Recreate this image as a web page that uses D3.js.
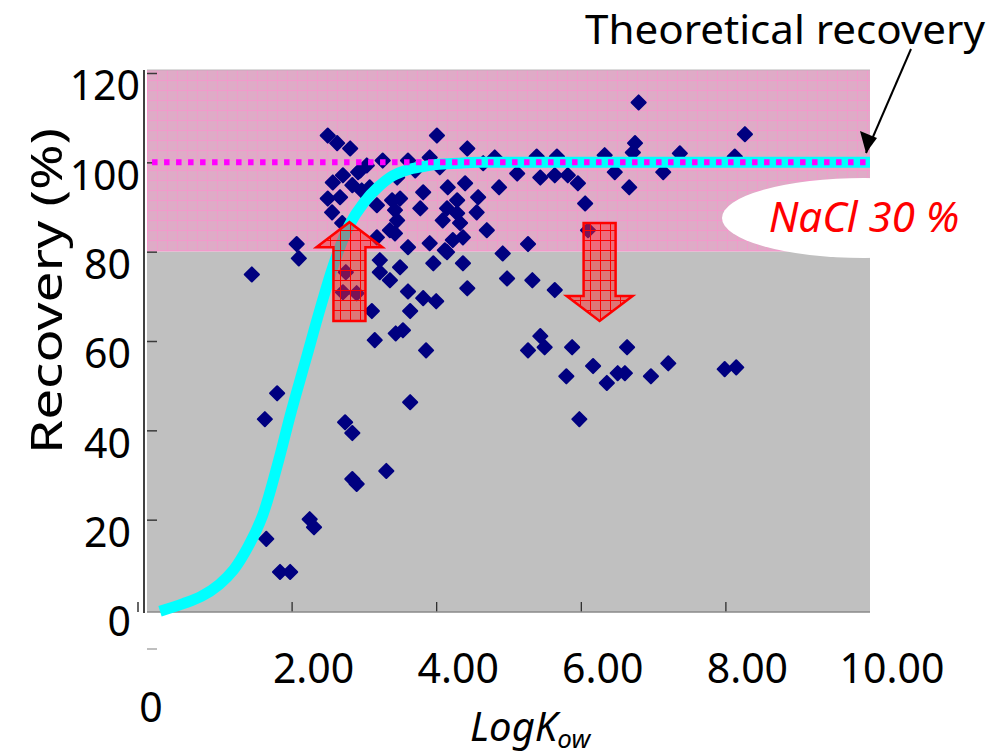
<!DOCTYPE html>
<html>
<head>
<meta charset="utf-8">
<script src="https://cdn.jsdelivr.net/npm/d3@7"></script>
<style>
  body { margin: 0; background: #fff; }
  svg { display: block; }
  text { font-family: "Noto Sans", "Open Sans", sans-serif; }
</style>
</head>
<body>
<svg id="chart" width="1003" height="756"></svg>
<script>
// measured compounds (LogKow vs recovery %)
const logKow = [
  1.45, 2.07, 2.10, 1.63, 1.80, 1.65, 1.84, 1.98, 2.25, 2.31,
  2.74, 2.84, 2.84, 2.90, 3.31, 3.64, 3.15, 3.44, 3.54, 3.86,
  3.11, 3.64, 3.61, 3.82, 4.00, 2.75, 2.71, 2.90, 4.43, 4.37,
  4.15, 4.23, 3.96, 3.22, 3.36, 3.50, 3.22, 3.18, 3.43, 3.61,
  3.91, 4.12, 4.37, 2.50, 2.63, 2.81, 3.26, 3.04, 2.92, 2.71,
  2.57, 2.50, 2.67, 2.84, 2.97, 3.08, 3.18, 3.39, 3.43, 2.56,
  2.70, 3.36, 2.95, 4.01, 4.43, 3.61, 3.91, 4.65, 3.71, 4.05,
  3.46, 4.16, 4.40, 3.82, 4.58, 3.50, 4.29, 3.78, 4.15, 4.29,
  4.56, 3.46, 4.33, 4.70, 4.09, 4.81, 6.80, 8.27, 6.75, 6.72,
  7.37, 8.13, 6.33, 5.67, 5.39, 5.12, 5.44, 5.64, 5.82, 5.96,
  6.47, 7.14, 6.67, 4.87, 6.06, 5.27, 4.92, 6.10, 4.98, 5.33,
  5.64, 5.44, 5.27, 5.50, 5.88, 6.64, 6.17, 5.80, 6.36, 6.51,
  6.61, 6.97, 7.21, 7.99, 8.15, 5.98
];
const recovery = [
  74.9, 81.7, 78.5, 42.5, 48.3, 15.7, 8.3, 8.3, 20.1, 18.3,
  41.8, 39.4, 29.1, 28.0, 30.9, 46.3, 60.2, 61.7, 62.4, 57.9,
  66.7, 66.7, 71.1, 69.6, 68.9, 75.4, 70.9, 70.7, 71.8, 77.4,
  79.9, 82.6, 77.4, 75.4, 73.6, 76.5, 78.1, 83.2, 84.1, 81.0,
  81.9, 80.3, 83.2, 106.0, 104.3, 103.1, 100.4, 99.3, 97.8, 97.1,
  95.5, 91.9, 92.2, 94.9, 93.7, 94.4, 90.4, 91.5, 89.3, 88.8,
  86.4, 84.8, 98.2, 106.0, 103.1, 100.4, 101.1, 99.8, 98.2, 98.9,
  96.6, 94.4, 95.3, 93.3, 92.2, 91.9, 91.5, 89.7, 89.7, 88.6,
  88.8, 87.0, 86.4, 84.8, 87.0, 101.1, 113.4, 106.3, 104.3, 102.2,
  102.0, 101.3, 101.6, 101.3, 101.3, 97.5, 96.6, 97.1, 97.1, 95.3,
  97.8, 97.8, 94.4, 94.4, 90.8, 81.7, 79.6, 84.8, 74.0, 73.6,
  71.4, 61.1, 57.9, 58.6, 58.6, 58.6, 54.4, 52.1, 50.6, 52.8,
  52.8, 52.1, 55.0, 53.7, 54.1, 42.5
];

// theoretical recovery curve
const curveLogKow = [0.18, 0.5, 0.75, 1.0, 1.2, 1.4, 1.6, 1.8, 2.0, 2.2, 2.4, 2.6, 2.8,
  3.0, 3.2, 3.4, 3.6, 3.8, 4.0, 4.3, 4.6, 5, 6, 7, 8, 9, 10];
const curveRecovery = [-0.5, 1.2, 2.8, 5.5, 8.8, 14, 21, 32, 44.5, 56, 67.5, 78, 86,
  91, 94.5, 97, 98.3, 99, 99.5, 99.8, 100, 100, 100, 100, 100, 100, 100];

const theoreticalLevel = 100;
const salinityBand = 80;
const xTicks = [2, 4, 6, 8, 10];
const yTicks = [0, 20, 40, 60, 80, 100, 120];
// shift arrows: x position, start and end recovery
const arrowX = [2.8, 6.26];
const arrowFrom = [64.5, 86.4];
const arrowTo = [86.6, 64.5];

const svg = d3.select('#chart');
const x = d3.scaleLinear().domain([0, 10]).range([147, 870]);
const y = d3.scaleLinear().domain([0, 120]).range([609, 73]);
const plotTop = 70, plotBottom = 612, plotLeft = 147, plotRight = 870;

const defs = svg.append('defs');
const pinkGrid = defs.append('pattern').attr('id', 'pinkGrid')
  .attr('patternUnits', 'userSpaceOnUse').attr('width', 10).attr('height', 10)
  .attr('x', plotLeft).attr('y', plotTop);
pinkGrid.append('rect').attr('width', 10).attr('height', 10).attr('fill', '#dfabc7');
pinkGrid.append('path').attr('d', 'M0,0.5H10M0.5,0V10').attr('stroke', '#f19acb').attr('stroke-width', 1);

const redGrid = defs.append('pattern').attr('id', 'redGrid')
  .attr('patternUnits', 'userSpaceOnUse').attr('width', 10).attr('height', 10);
redGrid.append('rect').attr('width', 10).attr('height', 10).attr('fill', 'rgba(255,40,40,0.48)');
redGrid.append('path').attr('d', 'M0,0.5H10M0.5,0V10').attr('stroke', '#ff0000').attr('stroke-width', 1);

// background bands
svg.append('rect')
  .attr('x', plotLeft).attr('y', y(salinityBand))
  .attr('width', plotRight - plotLeft).attr('height', plotBottom - y(salinityBand))
  .attr('fill', '#c0c0c0');
svg.append('rect')
  .attr('x', plotLeft).attr('y', plotTop)
  .attr('width', plotRight - plotLeft).attr('height', y(salinityBand) - plotTop)
  .attr('fill', 'url(#pinkGrid)');
svg.append('line').attr('x1', plotLeft).attr('x2', plotRight).attr('y1', plotTop).attr('y2', plotTop)
  .attr('stroke', '#b8b8b8').attr('stroke-width', 1);

// axes
svg.append('g').attr('transform', `translate(${plotLeft},0)`)
  .call(d3.axisLeft(y).tickValues(yTicks.slice(1)).tickSize(-10).tickFormat(''))
  .call(g => g.select('.domain').remove())
  .call(g => g.selectAll('line').attr('stroke', '#3a3a3a').attr('stroke-width', 1.5));
svg.append('line').attr('x1', 144).attr('x2', 144).attr('y1', plotTop).attr('y2', plotBottom + 1)
  .attr('stroke', '#000').attr('stroke-width', 1.5);
svg.append('line').attr('x1', 138).attr('x2', 138).attr('y1', 602).attr('y2', 612)
  .attr('stroke', '#000').attr('stroke-width', 1.2);
svg.append('line').attr('x1', 147).attr('x2', 157).attr('y1', 649).attr('y2', 649)
  .attr('stroke', '#aaa').attr('stroke-width', 1.5);

svg.append('g').attr('transform', `translate(0,${plotBottom})`)
  .call(d3.axisBottom(x).tickValues(xTicks.slice(0, 4)).tickSize(-10).tickFormat(''))
  .call(g => g.select('.domain').remove())
  .call(g => g.selectAll('line').attr('stroke', '#222').attr('stroke-width', 1.2));
svg.append('line').attr('x1', plotLeft).attr('x2', plotRight).attr('y1', plotBottom).attr('y2', plotBottom)
  .attr('stroke', '#8a8a8a').attr('stroke-width', 1.5);

svg.append('g').selectAll('text').data(yTicks).join('text')
  .attr('x', d => d >= 100 ? 140 : 131)
  .attr('y', d => y(d) + 13)
  .attr('dy', '0.35em')
  .attr('text-anchor', 'end')
  .attr('font-size', 41)
  .text(d => d);

svg.append('g').selectAll('text').data(xTicks).join('text')
  .attr('x', d => x(d) + 22)
  .attr('y', 683)
  .attr('text-anchor', 'middle')
  .attr('font-size', 41)
  .text(d => d3.format('.2f')(d));
svg.append('text').attr('x', 151).attr('y', 722).attr('text-anchor', 'middle')
  .attr('font-size', 41).text('0');

// axis titles
svg.append('text')
  .attr('transform', 'translate(62,291) rotate(-90)')
  .attr('text-anchor', 'middle')
  .attr('font-size', 43)
  .attr('textLength', 326).attr('lengthAdjust', 'spacingAndGlyphs')
  .text('Recovery (%)');
const xt = svg.append('text').attr('x', 470).attr('y', 741)
  .attr('font-size', 40).attr('font-style', 'italic');
xt.append('tspan').text('LogK');
xt.append('tspan').attr('font-size', 26).attr('dy', 7).text('ow');

// scatter points
const pts = d3.range(logKow.length).map(i => [logKow[i], recovery[i]]);
svg.append('g').selectAll('rect').data(pts).join('rect')
  .attr('x', -5).attr('y', -5).attr('width', 10).attr('height', 10)
  .attr('transform', d => `translate(${x(d[0])},${y(d[1])}) rotate(45)`)
  .attr('fill', '#000080')
  .attr('stroke', '#000080').attr('stroke-width', 2).attr('stroke-linejoin', 'round');

// theoretical curve
const line = d3.line().x(d => x(d[0])).y(d => y(d[1])).curve(d3.curveCatmullRom.alpha(0.5));
svg.append('path')
  .datum(curveLogKow.map((v, i) => [v, curveRecovery[i]]))
  .attr('d', line)
  .attr('fill', 'none').attr('stroke', '#00ffff').attr('stroke-width', 11);

// 100 % dotted reference
svg.append('line')
  .attr('x1', x(0.07)).attr('x2', x(10)).attr('y1', y(theoreticalLevel)).attr('y2', y(theoreticalLevel))
  .attr('stroke', '#ff00ff').attr('stroke-width', 6).attr('stroke-dasharray', '5.5,6.5');

// block arrows
function blockArrow(cx, y0, y1) {
  const dir = y1 < y0 ? -1 : 1;
  const hw = 16, headW = 33, headL = 25;
  const yb = y1 - dir * headL;
  return `M${cx - hw},${y0}L${cx - hw},${yb}L${cx - headW},${yb}L${cx},${y1}` +
    `L${cx + headW},${yb}L${cx + hw},${yb}L${cx + hw},${y0}Z`;
}
svg.append('g').selectAll('path').data(arrowX).join('path')
  .attr('d', (d, i) => blockArrow(x(d), y(arrowFrom[i]), y(arrowTo[i])))
  .attr('fill', 'url(#redGrid)')
  .attr('stroke', '#ff0000').attr('stroke-width', 2.5);

// NaCl label
svg.append('ellipse').attr('cx', 864).attr('cy', 218).attr('rx', 142).attr('ry', 40).attr('fill', '#fff');
svg.append('text').attr('x', 864).attr('y', 232).attr('text-anchor', 'middle')
  .attr('font-size', 42).attr('font-style', 'italic').attr('fill', '#ff0000')
  .text('NaCl 30 %');

// theoretical recovery callout
svg.append('line').attr('x1', 911).attr('y1', 49).attr('x2', 866).attr('y2', 153)
  .attr('stroke', '#000').attr('stroke-width', 2);
svg.append('path').attr('d', 'M866,153L860,131L877,138Z').attr('fill', '#000');
svg.append('text').attr('x', 585).attr('y', 44)
  .attr('font-size', 40).attr('textLength', 400).attr('lengthAdjust', 'spacingAndGlyphs')
  .text('Theoretical recovery');
</script>
</body>
</html>
